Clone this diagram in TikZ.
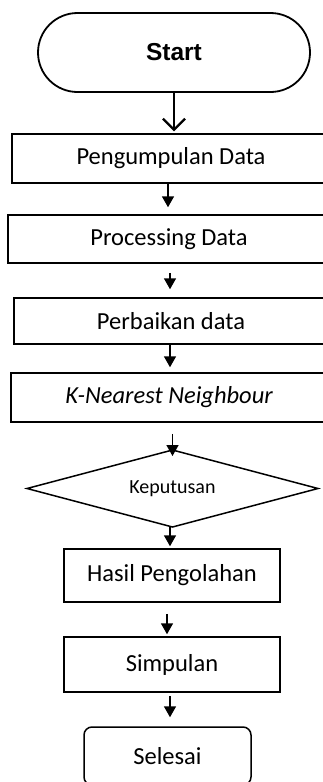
\documentclass[tikz,border=0pt]{standalone}
\usepackage{fontspec}
\setmainfont{Carlito}
\newfontfamily\arialfont{Liberation Sans}
\usetikzlibrary{shapes.geometric,shapes.misc,arrows.meta}
\tikzset{
  procbox/.style={draw, line width=1.5pt, rectangle, inner sep=0pt, font=\fontsize{24.5}{28}\selectfont},
  termbox/.style={draw, line width=1.8pt, rounded rectangle, rounded rectangle arc length=180, inner sep=0pt, font=\fontsize{24.5}{28}\selectfont},
  endbox/.style={draw, line width=1.5pt, rectangle, rounded corners=8pt, inner sep=0pt, font=\fontsize{24.5}{28}\selectfont},
  decbox/.style={draw, line width=1.5pt, diamond, aspect=3.78, inner sep=0pt, outer sep=0pt, font=\fontsize{20}{24}\selectfont},
  flow/.style={line width=1.6pt, -{Triangle[length=11pt,width=12pt]}},
  openflow/.style={line width=2.2pt, -{Straight Barb[length=11pt,width=22pt,line width=2.2pt]}},
}
\begin{document}
\begin{tikzpicture}[x=1pt,y=-1pt]
\useasboundingbox (0,0) rectangle (323,782);
\clip (0,0) rectangle (323,782);
\node[termbox, minimum width=272pt, minimum height=79pt] (start) at (174,52.5) {\arialfont\bfseries Start};
\node[procbox, minimum width=318pt, minimum height=49pt] (b1) at (171,158.5) {Pengumpulan Data};
\node[procbox, minimum width=322pt, minimum height=48pt] (b2) at (169,239) {Processing Data};
\node[procbox, minimum width=314pt, minimum height=46pt] (b3) at (171,321) {Perbaikan data};
\node[procbox, minimum width=316pt, minimum height=49pt] (b4) at (169,397.5) {\itshape K-Nearest Neighbour};
\node[decbox, minimum width=291pt, minimum height=77pt] (d) at (172.5,488.5) {\raisebox{-4pt}{Keputusan}};
\node[procbox, minimum width=216pt, minimum height=53pt] (b5) at (172,575.5) {Hasil Pengolahan};
\node[procbox, minimum width=216pt, minimum height=55pt] (b6) at (172,664.5) {Simpulan};
\node[endbox, minimum width=167pt, minimum height=58pt] (e) at (167.5,756) {Selesai};

\draw[openflow, shorten >=2pt] (start.south) -- (start.south |- b1.north);
\draw[flow, shorten >=7pt] ([xshift=-3pt]b1.south) -- ([xshift=-3pt]b1.south |- b2.north);
\draw[flow, shorten <=9pt, shorten >=8pt] ([xshift=1pt]b2.south) -- ([xshift=1pt]b2.south |- b3.north);
\draw[flow, shorten >=5pt] ([xshift=-1pt]b3.south) -- ([xshift=-1pt]b3.south |- b4.north);
\draw[flow, shorten <=11pt, shorten >=-6pt] (d.north |- b4.south) -- (d.north);
\draw[flow, shorten >=2pt] ([xshift=-2.5pt]d.south) -- ([xshift=-2.5pt]d.south |- b5.north);
\draw[flow, shorten <=11pt, shorten >=2pt] ([xshift=-5pt]b5.south) -- ([xshift=-5pt]b5.south |- b6.north);
\draw[flow, shorten <=3pt, shorten >=9pt] ([xshift=-2pt]b6.south) -- ([xshift=-2pt]b6.south |- e.north);
\end{tikzpicture}
\end{document}
